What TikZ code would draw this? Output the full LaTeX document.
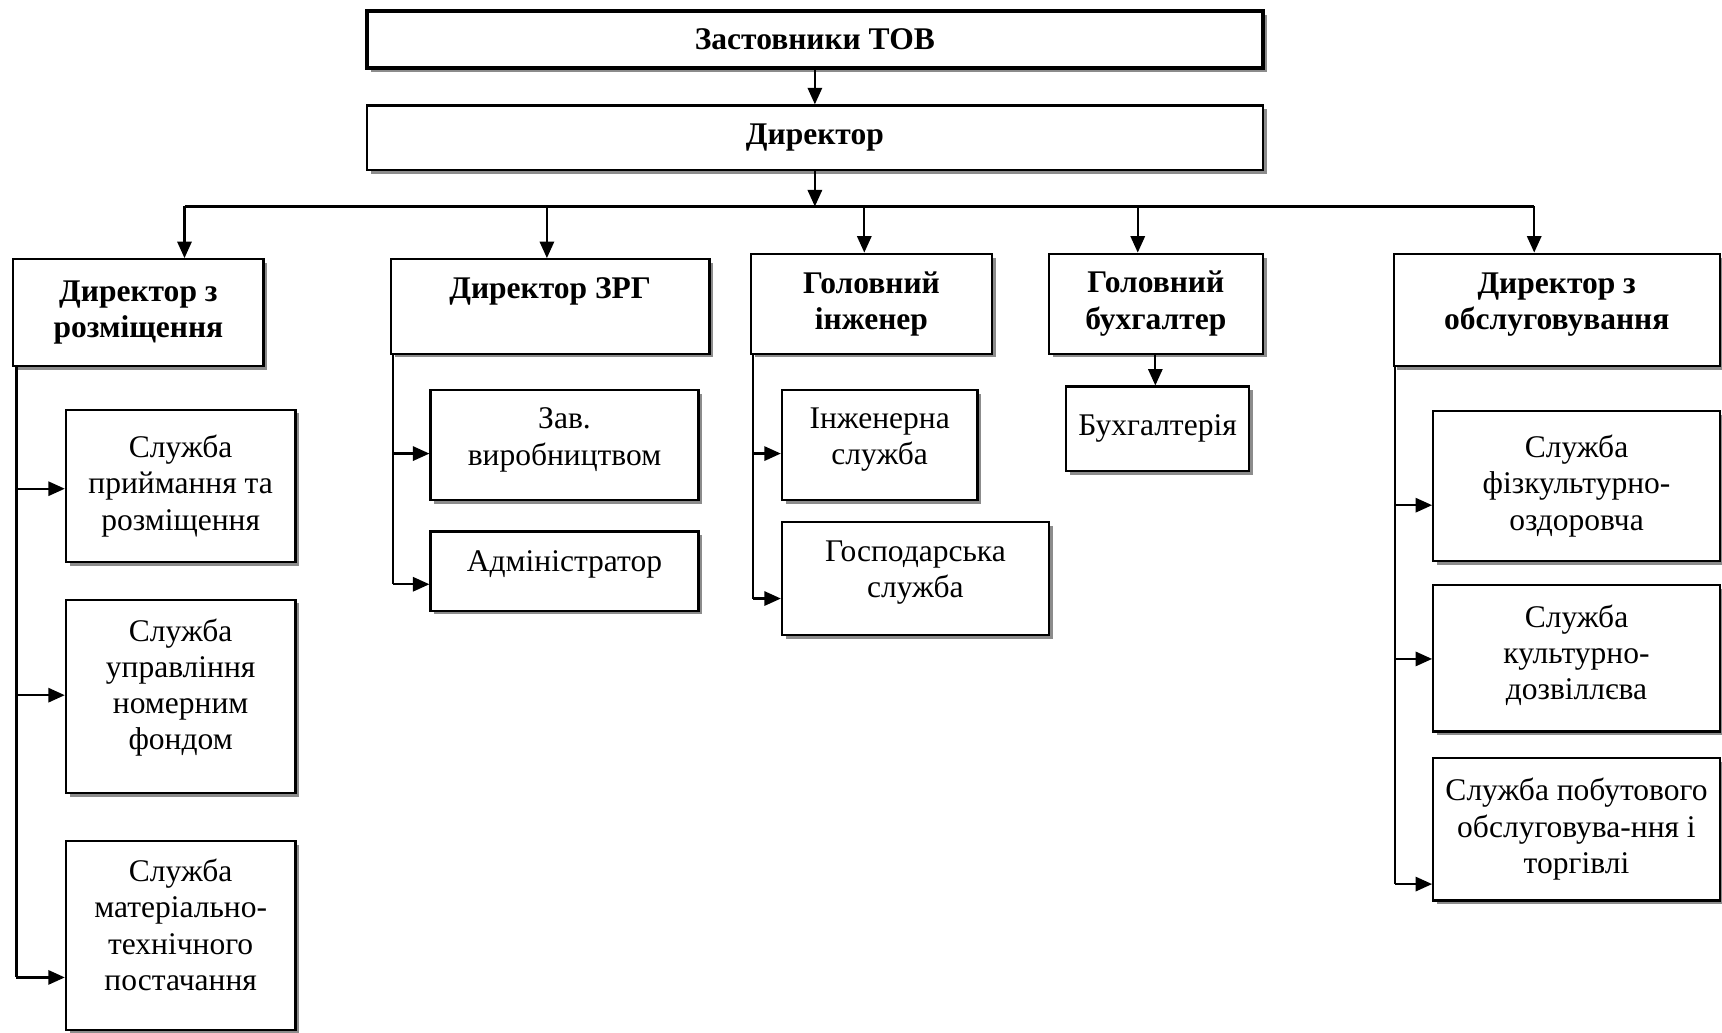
\documentclass[tikz,border=0pt]{standalone}
\usepackage{fontspec}
\setmainfont{Liberation Serif}
\usetikzlibrary{arrows.meta,shadows}
\tikzset{
  box/.style={draw, line width=2pt, fill=white, inner sep=0pt, align=center,
    font=\fontsize{28.7}{33}\selectfont,
    drop shadow={shadow xshift=3.5pt, shadow yshift=-3.5pt, fill=black!45, opacity=1}},
  boldbox/.style={box, font=\fontsize{28.7}{33}\selectfont\bfseries},
  conn/.style={line width=2pt},
  arr/.style={line width=2pt, -{Triangle[length=15pt,width=13pt]}}
}
\begin{document}
\begin{tikzpicture}[x=1pt,y=-1pt]
\useasboundingbox (0,0) rectangle (1568,940);
\fill[white] (0,0) rectangle (1568,940);

% top
\node[boldbox, line width=4pt, minimum width=816, minimum height=52] (A) at (742,36) {Застовники ТОВ};
\node[boldbox, minimum width=816, minimum height=59] (B) at (742,125.5) {Директор};

% second row
\node[boldbox, minimum width=228, minimum height=97] (C1) at (126,284.5) {Директор з\\розміщення\\[-27pt]\mbox{}};
\node[boldbox, minimum width=290, minimum height=86] (C2) at (501,279) {Директор ЗРГ\\\mbox{}};
\node[boldbox, minimum width=219, minimum height=91] (C3) at (793.5,276.5) {Головний\\інженер};
\node[boldbox, minimum width=195, minimum height=91] (C4) at (1052.5,276.5) {Головний\\бухгалтер};
\node[boldbox, minimum width=297, minimum height=102] (C5) at (1417.5,282) {Директор з\\обслуговування\\[-18pt]\mbox{}};

% left column
\node[box, minimum width=209, minimum height=139] (L1) at (164.5,442.5) {Служба\\приймання та\\розміщення};
\node[box, minimum width=209, minimum height=176] (L2) at (164.5,634) {Служба\\управління\\номерним\\фондом\\[-11pt]\mbox{}};
\node[box, minimum width=209, minimum height=172] (L3) at (164.5,852) {Служба\\матеріально-\\технічного\\постачання\\[-13pt]\mbox{}};

% ZRG column
\node[box, minimum width=244, minimum height=100] (Z1) at (514,405) {Зав.\\виробництвом\\[-18pt]\mbox{}};
\node[box, minimum width=244, minimum height=72] (Z2) at (514,520) {Адміністратор\\[-15pt]\mbox{}};

% engineer column
\node[box, minimum width=178, minimum height=100] (E1) at (801,405) {Інженерна\\служба\\[-18pt]\mbox{}};
\node[box, minimum width=243, minimum height=103] (E2) at (833.5,526.5) {Господарська\\служба\\[-16pt]\mbox{}};

% accountant
\node[box, minimum width=166, minimum height=77] (K1) at (1054,390.5) {Бухгалтерія};

% right column
\node[box, minimum width=261, minimum height=137] (R1) at (1435.5,442.5) {Служба\\фізкультурно-\\оздоровча};
\node[box, minimum width=261, minimum height=133] (R2) at (1435.5,599.5) {Служба\\культурно-\\дозвіллєва\\[-22pt]\mbox{}};
\node[box, minimum width=261, minimum height=130] (R3) at (1435.5,755) {Служба побутового\\обслуговува-ння і\\торгівлі};

% top connectors
\draw[arr] (A.south) -- (B.north);
\coordinate (bus) at (742,188);
\coordinate (bL) at (168,188);
\coordinate (bR) at (1397,188);
\draw[arr] (B.south) -- (bus);
\draw[conn] (bL) -- (bR);
\draw[arr] (bL) -- (bL |- C1.north);
\coordinate (b2) at (498,188);
\draw[arr] (b2) -- (b2 |- C2.north);
\coordinate (b3) at (787,188);
\draw[arr] (b3) -- (b3 |- C3.north);
\coordinate (b4) at (1036,188);
\draw[arr] (b4) -- (b4 |- C4.north);
\draw[arr] (bR) -- (bR |- C5.north);

% left column connectors
\coordinate (lt) at (15,333);
\coordinate (l1) at (15,445);
\coordinate (l2) at (15,633);
\coordinate (l3) at (15,890);
\draw[conn] (lt) -- (l3);
\draw[arr] (l1) -- (l1 -| L1.west);
\draw[arr] (l2) -- (l2 -| L2.west);
\draw[arr] (l3) -- (l3 -| L3.west);

% ZRG connectors
\coordinate (zt) at (358,322);
\coordinate (z1) at (358,413);
\coordinate (z2) at (358,532);
\draw[conn] (zt) -- (z2);
\draw[arr] (z1) -- (z1 -| Z1.west);
\draw[arr] (z2) -- (z2 -| Z2.west);

% engineer connectors
\coordinate (et) at (686,322);
\coordinate (e1) at (686,413);
\coordinate (e2) at (686,545);
\draw[conn] (et) -- (e2);
\draw[arr] (e1) -- (e1 -| E1.west);
\draw[arr] (e2) -- (e2 -| E2.west);

% accountant connector
\coordinate (k0) at (1052,322);
\draw[arr] (k0) -- (k0 |- K1.north);

% right column connectors
\coordinate (rt) at (1270,333);
\coordinate (r1) at (1270,460);
\coordinate (r2) at (1270,600);
\coordinate (r3) at (1270,805);
\draw[conn] (rt) -- (r3);
\draw[arr] (r1) -- (r1 -| R1.west);
\draw[arr] (r2) -- (r2 -| R2.west);
\draw[arr] (r3) -- (r3 -| R3.west);
\end{tikzpicture}
\end{document}
